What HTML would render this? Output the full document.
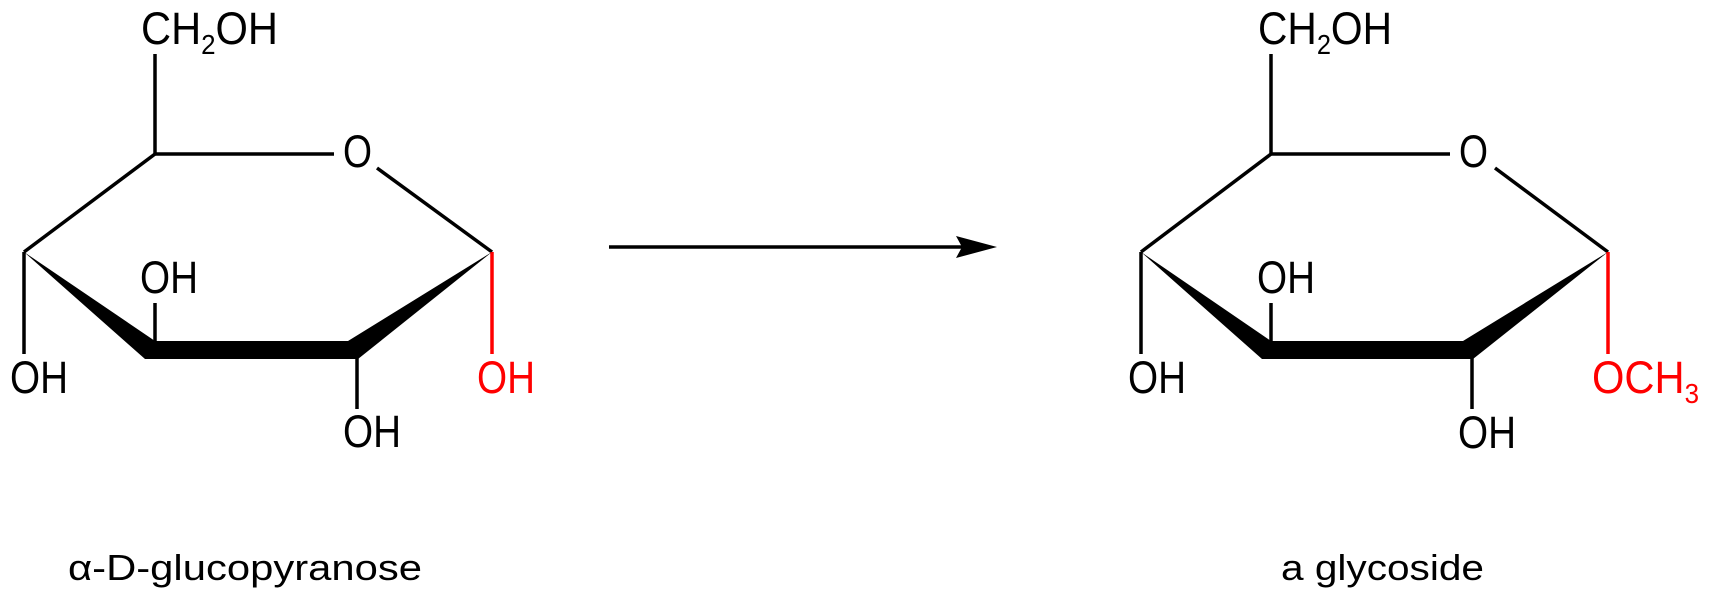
<!DOCTYPE html>
<html><head><meta charset="utf-8"><style>html,body{margin:0;padding:0;background:#fff}svg{display:block}</style></head>
<body>
<svg width="1709" height="603" viewBox="0 0 1709 603" xmlns="http://www.w3.org/2000/svg" font-family="'Liberation Sans', Arial, sans-serif">
<g stroke="#000" stroke-width="3.5" fill="none">
  <line x1="155" y1="54" x2="155" y2="154"/>
  <line x1="155" y1="154" x2="334" y2="154"/>
  <line x1="377" y1="168" x2="492" y2="252"/>
  <line x1="155" y1="154" x2="24" y2="252"/>
  <line x1="24" y1="252" x2="24" y2="354"/>
  <line x1="155" y1="303" x2="155" y2="342"/>
  <line x1="357" y1="358" x2="357" y2="409"/>
</g>
<line x1="492" y1="252" x2="492" y2="354" stroke="#f00" stroke-width="3.5"/>
<polygon points="24,252 155,341 348,341 492,252 358,359 145,359" fill="#000"/>
<g font-size="45" fill="#000">
  <text x="141" y="44" textLength="137" lengthAdjust="spacingAndGlyphs">CH<tspan font-size="28" dy="10">2</tspan><tspan dy="-10">OH</tspan></text>
  <text x="343" y="167" textLength="29" lengthAdjust="spacingAndGlyphs">O</text>
  <text x="140" y="293" textLength="58" lengthAdjust="spacingAndGlyphs">OH</text>
  <text x="10" y="393" textLength="58" lengthAdjust="spacingAndGlyphs">OH</text>
  <text x="343" y="447" textLength="58" lengthAdjust="spacingAndGlyphs">OH</text>
  <text x="477" y="393" fill="#f00" textLength="58" lengthAdjust="spacingAndGlyphs">OH</text>
</g>

<g stroke="#000" stroke-width="3.5" fill="none">
  <line x1="1271" y1="54" x2="1271" y2="154"/>
  <line x1="1271" y1="154" x2="1450" y2="154"/>
  <line x1="1495" y1="168" x2="1608" y2="252"/>
  <line x1="1271" y1="154" x2="1141" y2="252"/>
  <line x1="1141" y1="252" x2="1141" y2="354"/>
  <line x1="1271" y1="303" x2="1271" y2="342"/>
  <line x1="1472" y1="358" x2="1472" y2="409"/>
</g>
<line x1="1608" y1="252" x2="1608" y2="354" stroke="#f00" stroke-width="3.5"/>
<polygon points="1141,252 1271,341 1463,341 1608,252 1473,359 1262,359" fill="#000"/>
<g font-size="45" fill="#000">
  <text x="1258" y="44" textLength="134" lengthAdjust="spacingAndGlyphs">CH<tspan font-size="28" dy="10">2</tspan><tspan dy="-10">OH</tspan></text>
  <text x="1459" y="167" textLength="29" lengthAdjust="spacingAndGlyphs">O</text>
  <text x="1257" y="293" textLength="58" lengthAdjust="spacingAndGlyphs">OH</text>
  <text x="1128" y="393" textLength="58" lengthAdjust="spacingAndGlyphs">OH</text>
  <text x="1458" y="448" textLength="58" lengthAdjust="spacingAndGlyphs">OH</text>
  <text x="1592" y="393" fill="#f00" textLength="107" lengthAdjust="spacingAndGlyphs">OCH<tspan font-size="28" dy="10">3</tspan></text>
</g>

<line x1="609" y1="247" x2="965" y2="247" stroke="#000" stroke-width="3.5"/>
<polygon points="997,247 956,236 962,247 956,258" fill="#000"/>

<g font-size="36" fill="#000">
  <text x="68" y="580" textLength="354" lengthAdjust="spacingAndGlyphs">α-D-glucopyranose</text>
  <text x="1281" y="580" textLength="203" lengthAdjust="spacingAndGlyphs">a glycoside</text>
</g>
</svg>
</body></html>
